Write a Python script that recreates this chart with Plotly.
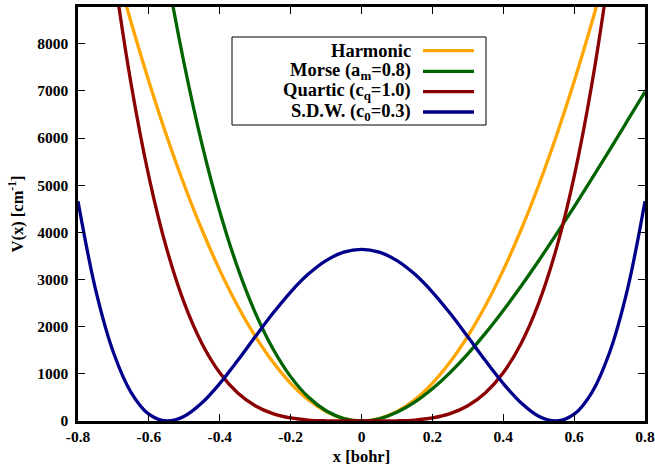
import plotly.graph_objects as go

# sampled positions [bohr]
x_vals = [-0.80, -0.75, -0.70, -0.65, -0.60, -0.55, -0.50, -0.45, -0.40, -0.35, -0.30,
          -0.25, -0.20, -0.15, -0.10, -0.05, 0.00, 0.05, 0.10, 0.15, 0.20, 0.25,
          0.30, 0.35, 0.40, 0.45, 0.50, 0.55, 0.60, 0.65, 0.70, 0.75, 0.80]

harmonic = [12800, 11250, 9800, 8450, 7200, 6050, 5000, 4050, 3200, 2450, 1800,
            1250, 800, 450, 200, 50, 0, 50, 200, 450, 800, 1250,
            1800, 2450, 3200, 4050, 5000, 6050, 7200, 8450, 9800, 11250, 12800]

morse = [25116, 21121, 17611, 14535, 11862, 9546, 7559, 5867, 4444, 3262, 2298,
         1532, 941, 508, 217, 52, 0, 48, 185, 400, 684, 1027,
         1423, 1864, 2344, 2856, 3397, 3961, 4541, 5138, 5746, 6362, 6982]

quartic = [16384, 12656, 9604, 7140, 5184, 3660, 2500, 1640, 1024, 600, 324,
           156, 64, 20, 4, 0, 0, 0, 4, 20, 64, 156,
           324, 600, 1024, 1640, 2500, 3660, 5184, 7140, 9604, 12656, 16384]

sdw = [4658, 2775, 1452, 603, 144, 0, 102, 386, 795, 1276, 1785,
       2283, 2735, 3115, 3402, 3580, 3640, 3580, 3402, 3115, 2735, 2283,
       1785, 1276, 795, 386, 102, 0, 144, 603, 1452, 2775, 4658]

series_names = ["Harmonic", "Morse (a<sub>m</sub>=0.8)",
                "Quartic (c<sub>q</sub>=1.0)", "S.D.W. (c<sub>0</sub>=0.3)"]
series_values = [harmonic, morse, quartic, sdw]
series_colors = ["#FFA500", "#006400", "#8B0000", "#00008B"]

x_ticks = [-0.8, -0.6, -0.4, -0.2, 0, 0.2, 0.4, 0.6, 0.8]
x_tick_labels = ["-0.8", "-0.6", "-0.4", "-0.2", "0", "0.2", "0.4", "0.6", "0.8"]
y_ticks = [0, 1000, 2000, 3000, 4000, 5000, 6000, 7000, 8000]
y_tick_labels = ["0", "1000", "2000", "3000", "4000", "5000", "6000", "7000", "8000"]

W, H = 655, 466
ML, MR, MT, MB = 78, 10, 7, 45
PW, PH = W - ML - MR, H - MT - MB


def px(xp):
    return (xp - ML) / PW


def py(yp):
    return (H - MB - yp) / PH


FONT = "Liberation Serif"

fig = go.Figure()
for name, vals, col in zip(series_names, series_values, series_colors):
    fig.add_trace(go.Scatter(x=x_vals, y=vals, mode="lines", name=name,
                             line=dict(color=col, width=3.3, shape="spline"),
                             showlegend=False, cliponaxis=True))

# gnuplot-style legend: right-aligned text, sample line on the right
shapes = [dict(type="rect", xref="paper", yref="paper",
               x0=px(232), x1=px(486), y0=py(125), y1=py(37),
               line=dict(color="black", width=1), fillcolor="white", layer="above")]
annotations = []
row_y = [50.7, 71.3, 91.6, 112.0]
for name, col, ry in zip(series_names, series_colors, row_y):
    annotations.append(dict(xref="paper", yref="paper", x=px(413), y=py(ry),
                            xanchor="right", yanchor="middle", text="<b>%s</b>" % name,
                            showarrow=False, font=dict(family=FONT, size=18.5, color="black")))
    shapes.append(dict(type="line", xref="paper", yref="paper",
                       x0=px(423), x1=px(474), y0=py(ry), y1=py(ry),
                       line=dict(color=col, width=3.3), layer="above"))

fig.update_layout(
    width=W, height=H,
    margin=dict(l=ML, r=MR, t=MT, b=MB, autoexpand=False),
    paper_bgcolor="white", plot_bgcolor="white",
    font=dict(family=FONT, size=15.5, color="black"),
    shapes=shapes, annotations=annotations,
    xaxis=dict(range=[-0.8, 0.8], tickvals=x_ticks, ticktext=["<b>%s</b>" % t for t in x_tick_labels],
               ticks="inside", ticklen=7, tickwidth=1, tickcolor="black",
               showline=True, linecolor="black", linewidth=2.5, mirror="ticks",
               showgrid=False, zeroline=False, automargin=False,
               title=dict(text="<b>x [bohr]</b>", standoff=8, font=dict(size=16.5))),
    yaxis=dict(range=[0, 8779], tickvals=y_ticks, ticktext=["<b>%s</b>" % t for t in y_tick_labels],
               ticks="inside", ticklen=7, tickwidth=1, tickcolor="black",
               showline=True, linecolor="black", linewidth=2.5, mirror="ticks",
               showgrid=False, zeroline=False, automargin=False, ticklabelstandoff=4,
               title=dict(text="<b>V(x) [cm<sup>-1</sup>]</b>", standoff=10, font=dict(size=16.5))),
)

fig.write_html("out.html")
